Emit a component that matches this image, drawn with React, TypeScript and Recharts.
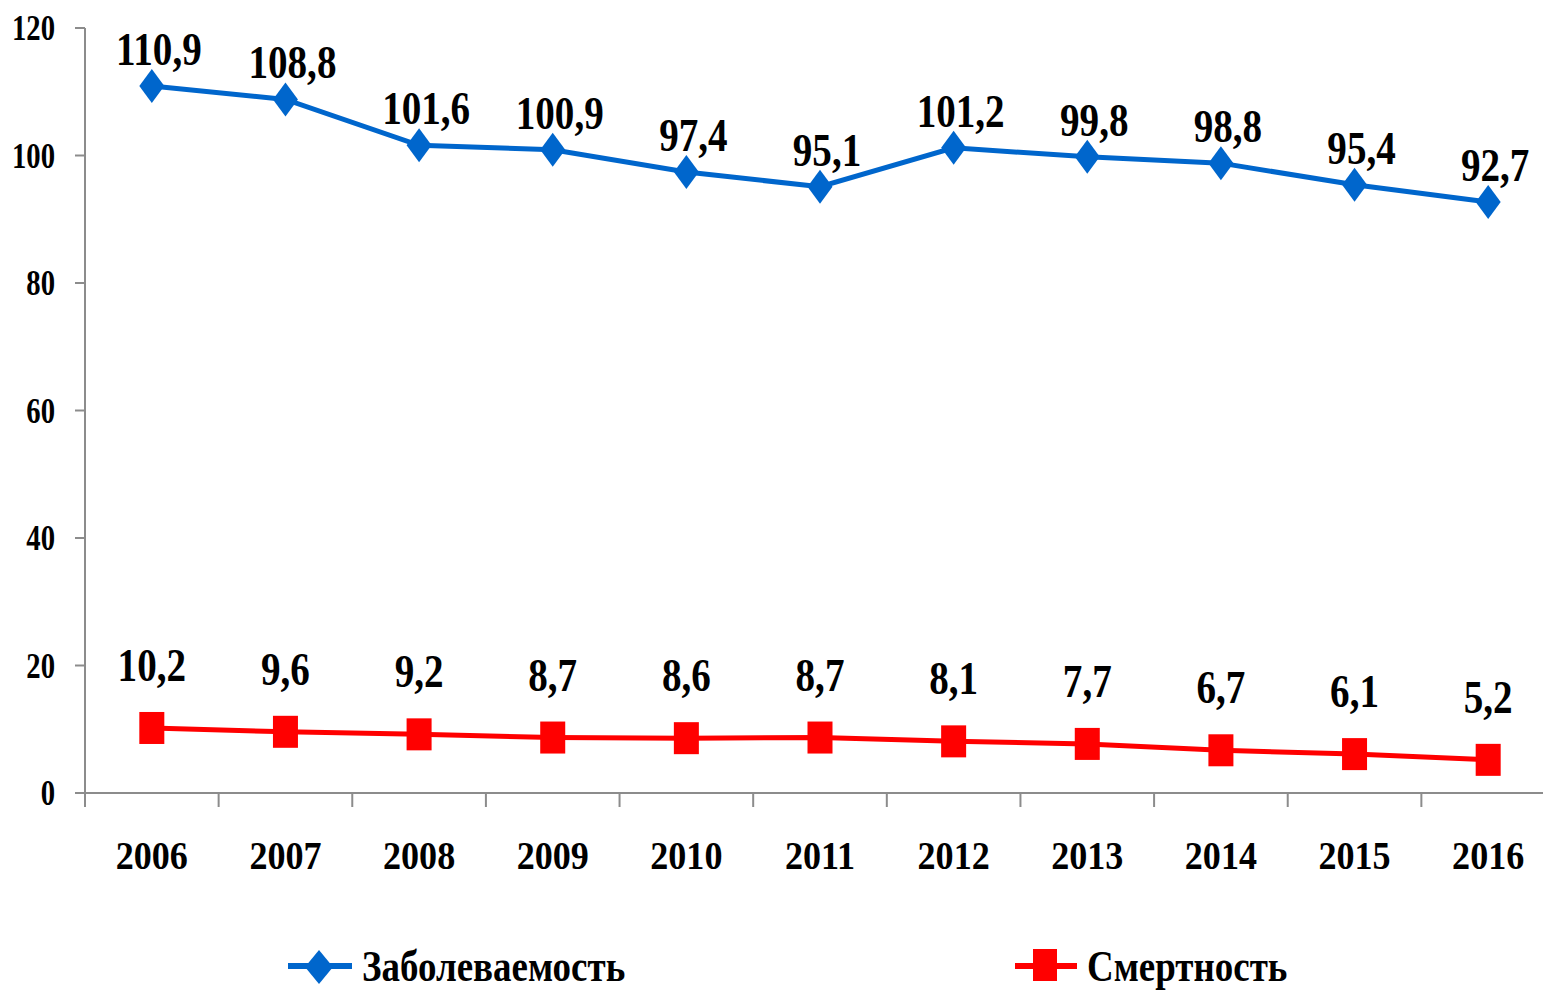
import { LineChart, Line, XAxis, YAxis, Legend, LabelList } from 'recharts'

const years = ['2006', '2007', '2008', '2009', '2010', '2011', '2012', '2013', '2014', '2015', '2016']
const incidence = [110.9, 108.8, 101.6, 100.9, 97.4, 95.1, 101.2, 99.8, 98.8, 95.4, 92.7]
const mortality = [10.2, 9.6, 9.2, 8.7, 8.6, 8.7, 8.1, 7.7, 6.7, 6.1, 5.2]
const yTicks = [0, 20, 40, 60, 80, 100, 120]

const BLUE = '#0066cc'
const RED = '#ff0000'
const AXIS = '#8c8c8c'
const FONT = '"Liberation Serif", "Times New Roman", serif'

const CHART_W = 1570
const Y_W = 85
const M_RIGHT = 15
const HALF_BAND = (CHART_W - Y_W - M_RIGHT) / years.length / 2

const data = years.map((year, i) => ({ year, incidence: incidence[i], mortality: mortality[i] }))

const fmt = (v: number) => v.toFixed(1).replace('.', ',')

function Diamond(props: any) {
  const { cx, cy } = props
  if (cx == null || cy == null) return null
  return <polygon points={`${cx},${cy - 17} ${cx + 12.5},${cy} ${cx},${cy + 17} ${cx - 12.5},${cy}`} fill={BLUE} />
}

function Square(props: any) {
  const { cx, cy } = props
  if (cx == null || cy == null) return null
  return <rect x={cx - 12.5} y={cy - 16} width={25} height={32} fill={RED} />
}

const squeezed = (x: number, y: number, sx: number) => `translate(${x},${y}) scale(${sx},1)`

function valueLabel(dx: number, dy: number) {
  return (props: any) => {
    const { x, y, value } = props
    return (
      <text transform={squeezed(x + dx, y + dy, 0.85)} textAnchor="middle"
        fontFamily={FONT} fontWeight="bold" fontSize={46} fill="#000">
        {fmt(Number(value))}
      </text>
    )
  }
}

function YTick(props: any) {
  const { x, y, payload } = props
  return (
    <text transform={squeezed(x, y + 12, 0.82)} textAnchor="end"
      fontFamily={FONT} fontWeight="bold" fontSize={35} fill="#000">
      {payload.value}
    </text>
  )
}

// year label at the band centre, tick marks on the band edges (Excel style)
function YearTick(props: any) {
  const { x, y, payload, index } = props
  const last = index === years.length - 1
  return (
    <g>
      <line x1={x - HALF_BAND} x2={x - HALF_BAND} y1={y} y2={y + 14} stroke={AXIS} strokeWidth={2} />
      {last && <line x1={x + HALF_BAND} x2={x + HALF_BAND} y1={y} y2={y + 14} stroke={AXIS} strokeWidth={2} />}
      <text transform={squeezed(x, y + 76, 0.88)} textAnchor="middle"
        fontFamily={FONT} fontWeight="bold" fontSize={41} fill="#000">
        {payload.value}
      </text>
    </g>
  )
}

function LegendContent() {
  return (
    <svg width={1543} height={60} style={{ overflow: 'visible' }}>
      <line x1={288} x2={352} y1={35} y2={35} stroke={BLUE} strokeWidth={6} />
      <polygon points="319,19 333,36 319,53 305,36" fill={BLUE} />
      <text transform={squeezed(362, 50, 0.84)} fontFamily={FONT} fontWeight="bold" fontSize={44}>
        Заболеваемость
      </text>
      <line x1={1015} x2={1077} y1={35} y2={35} stroke={RED} strokeWidth={6} />
      <rect x={1033} y={18} width={24} height={32} fill={RED} />
      <text transform={squeezed(1087, 50, 0.84)} fontFamily={FONT} fontWeight="bold" fontSize={44}>
        Смертность
      </text>
    </svg>
  )
}

export default function App() {
  return (
    <div style={{ position: 'absolute', left: 0, top: 0, width: 1543, height: 991, overflow: 'hidden', background: '#fff' }}>
      <LineChart width={CHART_W} height={991} data={data} margin={{ top: 28, right: M_RIGHT, left: 0, bottom: 0 }}>
        <XAxis dataKey="year" scale="band" height={138} interval={0}
          axisLine={{ stroke: AXIS, strokeWidth: 2 }} tickLine={false} tickSize={0} tickMargin={0} tick={<YearTick />} />
        <YAxis domain={[0, 120]} ticks={yTicks} width={Y_W} tickSize={10} tickMargin={20}
          axisLine={{ stroke: AXIS, strokeWidth: 2 }} tickLine={{ stroke: AXIS, strokeWidth: 2 }} tick={<YTick />} />
        <Legend verticalAlign="bottom" height={60} content={<LegendContent />} />
        <Line dataKey="incidence" name="Заболеваемость" stroke={BLUE} strokeWidth={5}
          dot={<Diamond />} activeDot={false} isAnimationActive={false}>
          <LabelList dataKey="incidence" content={valueLabel(7, -21)} />
        </Line>
        <Line dataKey="mortality" name="Смертность" stroke={RED} strokeWidth={5}
          dot={<Square />} activeDot={false} isAnimationActive={false}>
          <LabelList dataKey="mortality" content={valueLabel(0, -47)} />
        </Line>
      </LineChart>
    </div>
  )
}
